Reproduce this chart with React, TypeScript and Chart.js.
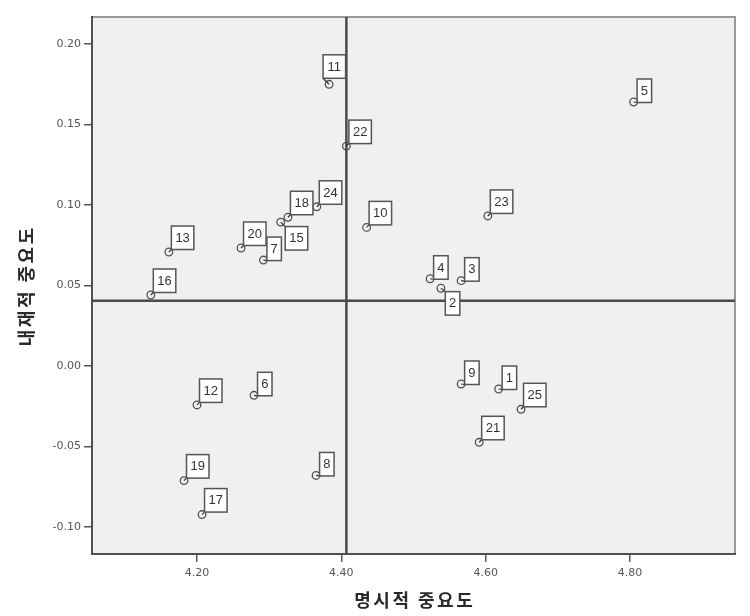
import React, { useEffect, useRef } from "react";
import { Chart, registerables } from "chart.js";

Chart.register(...registerables);

// ---- data ----
const ids = [1, 2, 3, 4, 5, 6, 7, 8, 9, 10, 11, 12, 13, 15, 16, 17, 18, 19, 20, 21, 22, 23, 24, 25];
const explicitImportance = [
  4.618, 4.538, 4.566, 4.523, 4.805, 4.279, 4.292, 4.365, 4.566, 4.435, 4.383, 4.2, 4.161,
  4.316, 4.136, 4.207, 4.326, 4.182, 4.261, 4.591, 4.407, 4.603, 4.366, 4.649,
];
const implicitImportance = [
  -0.0143, 0.0483, 0.053, 0.0542, 0.164, -0.0182, 0.0658, -0.068, -0.0112, 0.0861, 0.175, -0.0242,
  0.0708, 0.0894, 0.0441, -0.0923, 0.0924, -0.0712, 0.0733, -0.0474, 0.1366, 0.0932, 0.0989, -0.0269,
];
const xTickValues = [4.2, 4.4, 4.6, 4.8];
const yTickValues = [-0.1, -0.05, 0, 0.05, 0.1, 0.15, 0.2];
const xRange = [4.0545, 4.9455];
const yRange = [-0.1168, 0.2168];
const refX = 4.407;
const refY = 0.0405;
const xTitle = "명시적 중요도";
const yTitle = "내재적 중요도";

// label placement exceptions (style)
const LABEL_PLACEMENT: Record<number, { dx: number; dy: number; below: boolean }> = {
  11: { dx: -6, dy: -6, below: false },
  15: { dx: 4.5, dy: 4.5, below: true },
  2: { dx: 4.4, dy: 3.4, below: true },
};

const bgPlugin = {
  id: "bgFrame",
  beforeDraw(chart: any) {
    const { ctx, chartArea: a } = chart;
    ctx.save();
    ctx.fillStyle = "#f0f0f0";
    ctx.fillRect(a.left, a.top, a.right - a.left, a.bottom - a.top);
    ctx.restore();
  },
  beforeDatasetsDraw(chart: any) {
    const { ctx, chartArea: a } = chart;
    ctx.save();
    ctx.lineWidth = 2;
    ctx.strokeStyle = "#9a9a9a";
    ctx.beginPath();
    ctx.moveTo(a.left, a.top);
    ctx.lineTo(a.right, a.top);
    ctx.lineTo(a.right, a.bottom);
    ctx.stroke();
    ctx.strokeStyle = "#505050";
    ctx.beginPath();
    ctx.moveTo(a.left, a.top - 1);
    ctx.lineTo(a.left, a.bottom);
    ctx.lineTo(a.right + 1, a.bottom);
    ctx.stroke();
    ctx.restore();
  },
  afterDraw(chart: any) {
    const { ctx, chartArea: a } = chart;
    ctx.save();
    ctx.fillStyle = "#2a2a2a";
    ctx.font = 'bold 18px "Noto Sans CJK KR"';
    (ctx as any).letterSpacing = "2.5px";
    ctx.textAlign = "center";
    ctx.textBaseline = "middle";
    ctx.fillText(xTitle, (a.left + a.right) / 2 + 1.25, 600);
    ctx.translate(26, 287);
    ctx.rotate(-Math.PI / 2);
    ctx.fillText(yTitle, 1.25, 0);
    ctx.restore();
  },
};

const labelPlugin = {
  id: "pointLabels",
  afterDatasetsDraw(chart: any) {
    const meta = chart.getDatasetMeta(0);
    const ctx = chart.ctx;
    ctx.save();
    ctx.font = '13px "Liberation Sans"';
    ctx.textAlign = "center";
    ctx.textBaseline = "middle";
    meta.data.forEach((el: any, i: number) => {
      const id = ids[i];
      const text = String(id);
      const w = text.length === 1 ? 14.5 : 22.5;
      const h = 23.5;
      const place =
        LABEL_PLACEMENT[id] ?? (text.length === 1 ? { dx: 3.5, dy: 0.5, below: false } : { dx: 2.5, dy: -2.5, below: false });
      const left = el.x + place.dx;
      const top = place.below ? el.y + place.dy : el.y + place.dy - h;
      // leader line
      ctx.strokeStyle = "#333";
      ctx.lineWidth = 1.2;
      ctx.beginPath();
      ctx.moveTo(el.x, el.y);
      ctx.lineTo(left, place.below ? top : top + h);
      ctx.stroke();
      ctx.fillStyle = "#ffffff";
      ctx.fillRect(left, top, w, h);
      ctx.strokeStyle = "#555";
      ctx.lineWidth = 1.5;
      ctx.strokeRect(left, top, w, h);
      ctx.fillStyle = "#333";
      ctx.fillText(text, left + w / 2, top + h / 2 + 0.5);
    });
    ctx.restore();
  },
};

export default function App() {
  const canvasRef = useRef<HTMLCanvasElement | null>(null);

  useEffect(() => {
    if (!canvasRef.current) return;
    const points = explicitImportance.map((x, i) => ({ x, y: implicitImportance[i] }));
    const chart = new Chart(canvasRef.current, {
      type: "scatter",
      data: {
        datasets: [
          {
            data: points,
            pointRadius: 3.8,
            pointBorderWidth: 1.3,
            pointBorderColor: "#505050",
            pointBackgroundColor: "rgba(0,0,0,0)",
          },
          {
            data: [
              { x: refX, y: yRange[0] },
              { x: refX, y: yRange[1] },
            ],
            showLine: true,
            pointRadius: 0,
            borderColor: "#4a4a4a",
            borderWidth: 2.5,
          },
          {
            data: [
              { x: xRange[0], y: refY },
              { x: xRange[1], y: refY },
            ],
            showLine: true,
            pointRadius: 0,
            borderColor: "#4a4a4a",
            borderWidth: 2.5,
          },
        ],
      },
      options: {
        animation: false,
        responsive: false,
        events: [],
        layout: { padding: { left: 0, right: 15, top: 17, bottom: 0 } },
        plugins: { legend: { display: false }, tooltip: { enabled: false } },
        scales: {
          x: {
            type: "linear",
            min: xRange[0],
            max: xRange[1],
            afterBuildTicks: (s: any) => {
              s.ticks = xTickValues.map((v) => ({ value: v }));
            },
            afterFit: (s: any) => {
              s.height = 62;
            },
            grid: { drawOnChartArea: false, drawTicks: true, tickLength: 8, color: "#555", lineWidth: 1.5 },
            border: { display: false },
            ticks: {
              padding: 5,
              maxRotation: 0,
              color: "#555",
              font: { family: '"DejaVu Sans"', size: 11 },
              callback: (v: any) => Number(v).toFixed(2),
            },
          },
          y: {
            type: "linear",
            min: yRange[0],
            max: yRange[1],
            afterBuildTicks: (s: any) => {
              s.ticks = yTickValues.map((v) => ({ value: v }));
            },
            afterFit: (s: any) => {
              s.width = 92;
            },
            grid: { drawOnChartArea: false, drawTicks: true, tickLength: 8, color: "#555", lineWidth: 1.5 },
            border: { display: false },
            ticks: {
              padding: 3,
              color: "#555",
              font: { family: '"DejaVu Sans"', size: 11 },
              callback: (v: any) => Number(v).toFixed(2),
            },
          },
        },
      },
      plugins: [bgPlugin, labelPlugin],
    });
    return () => chart.destroy();
  }, []);

  return (
    <div style={{ position: "absolute", left: 0, top: 0, width: 750, height: 616, background: "#fff" }}>
      <canvas ref={canvasRef} width={750} height={616} style={{ display: "block" }} />
    </div>
  );
}
